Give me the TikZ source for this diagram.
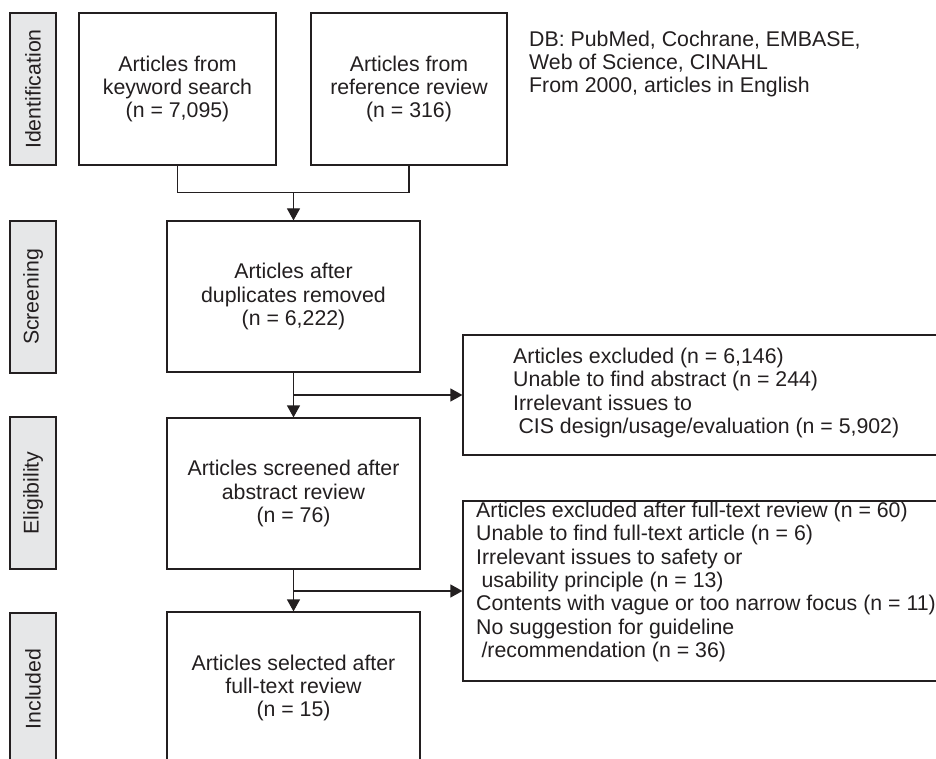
\documentclass[tikz,border=0pt]{standalone}
\usepackage{fontspec}
\setmainfont{Liberation Sans}
\usetikzlibrary{arrows.meta}
\definecolor{ink}{HTML}{231F20}
\definecolor{tab}{HTML}{E6E7E8}
\begin{document}
\begin{tikzpicture}[x=1pt,y=-1pt,
  every node/.style={font=\fontsize{21.3}{23.3}\selectfont, text=ink},
  box/.style={draw=ink, line width=1.2pt, align=center, inner sep=0pt},
  tabbox/.style={draw=ink, fill=tab, line width=1.2pt, rotate=90, minimum width=152pt, minimum height=46pt, inner sep=0pt},
  conn/.style={draw=ink, line width=1.2pt},
  arr/.style={conn, -{Triangle[length=12pt,width=13pt]}},
  note/.style={align=left, inner sep=0pt, anchor=west}]
\useasboundingbox (0,0) rectangle (936,759);
\clip (0,0) rectangle (936,759);
\fill[white] (0,0) rectangle (936,759);
% stage tabs
\node[tabbox] (tid) at (33,89) {Identification};
\node[tabbox] (tsc) at (33,297) {Screening};
\node[tabbox] (tel) at (33,493) {Eligibility};
\node[tabbox] (tin) at (33,689) {Included};
% main boxes
\node[box, minimum width=197pt, minimum height=152pt] (kw) at (177.5,89) {Articles from\\keyword search\\(n = 7,095)};
\node[box, minimum width=196pt, minimum height=152pt] (ref) at (409,89) {Articles from\\reference review\\(n = 316)};
\node[note] (db) at (529,64) {DB: PubMed, Cochrane, EMBASE,\\Web of Science, CINAHL\\From 2000, articles in English};
\node[box, minimum width=253pt, minimum height=151pt] (scr) at (293.5,296.5) {Articles after\\duplicates removed\\(n = 6,222)};
\node[box, minimum width=253pt, minimum height=151pt] (eli) at (293.5,493.5) {Articles screened after\\abstract review\\(n = 76)};
\node[box, minimum width=253pt, minimum height=152pt] (inc) at (293.5,688) {Articles selected after\\full-text review\\(n = 15)};
% exclusion boxes
\node[box, minimum width=487pt, minimum height=120pt] (ex1) at (706.5,395) {};
\node[note] (ex1t) at (513,393) {Articles excluded (n = 6,146)\\Unable to find abstract (n = 244)\\Irrelevant issues to\\\hspace{0.25em}CIS design/usage/evaluation (n = 5,902)};
\node[box, minimum width=487pt, minimum height=180pt] (ex2) at (706.5,591) {};
\node[note] (ex2t) at (476,582) {Articles excluded after full-text review (n = 60)\\Unable to find full-text article (n = 6)\\Irrelevant issues to safety or\\\hspace{0.25em}usability principle (n = 13)\\Contents with vague or too narrow focus (n = 11)\\No suggestion for guideline\\\hspace{0.25em}/recommendation (n = 36)};
% connectors
\path (scr.north) ++(0,-28) coordinate (m);
\draw[conn] (kw.south) |- (m) -| (ref.south);
\draw[arr] (m) -- (scr.north);
\draw[arr] (scr.south) -- (eli.north);
\draw[arr] (scr.south |- ex1.west) -- (ex1.west);
\draw[arr] (eli.south) -- (inc.north);
\draw[arr] (eli.south |- ex2.west) -- (ex2.west);
\end{tikzpicture}
\end{document}
